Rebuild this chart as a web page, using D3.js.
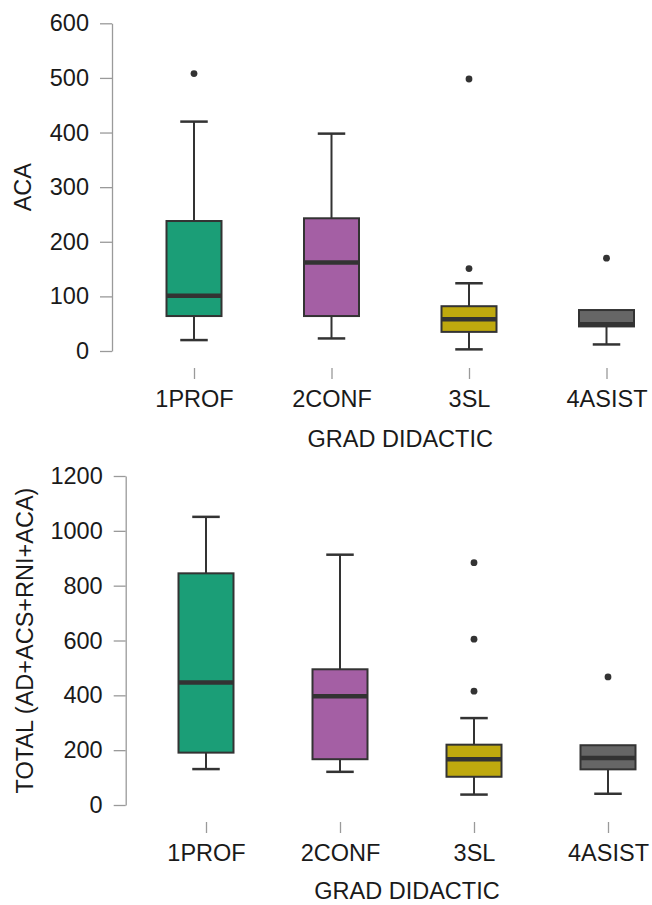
<!DOCTYPE html>
<html>
<head>
<meta charset="utf-8">
<script src="https://cdn.jsdelivr.net/npm/d3@7"></script>
<style>
  body { margin: 0; background: #fff; }
  text { font-family: "Liberation Sans", Arial, sans-serif; fill: #1a1a1a; }
</style>
</head>
<body>
<div id="chart"></div>
<script>
var categories = ['1PROF', '2CONF', '3SL', '4ASIST'];
var boxColors = ['#1b9e77', '#a45fa4', '#bfa90e', '#666666'];

// ACA
var acaLow = [20, 23, 3, 12];
var acaQ1 = [64, 64, 35, 45];
var acaMed = [101, 162, 58, 49];
var acaQ3 = [238, 243, 82, 75];
var acaHigh = [420, 398, 124, 75];
var acaOutliers = [[508], [], [498, 151], [170]];
var acaTicks = [0, 100, 200, 300, 400, 500, 600];

// TOTAL
var totLow = [131, 121, 38, 41];
var totQ1 = [191, 167, 103, 130];
var totMed = [447, 397, 167, 171];
var totQ3 = [845, 495, 220, 218];
var totHigh = [1051, 913, 317, 218];
var totOutliers = [[], [], [884, 605, 415], [467]];
var totTicks = [0, 200, 400, 600, 800, 1000, 1200];

var svg = d3.select('#chart')
    .append('svg')
    .attr('width', 652)
    .attr('height', 905)

drawPanel({
    axisX: 112, top: 23.3, bottom: 351, xAxisY: 368,
    xRange: [194, 606.5], ticks: acaTicks,
    low: acaLow, q1: acaQ1, med: acaMed, q3: acaQ3, high: acaHigh, out: acaOutliers,
    ylabel: 'ACA', ylabelX: 23, xlabelY: 447
})
drawPanel({
    axisX: 125.7, top: 476, bottom: 805, xAxisY: 822,
    xRange: [206, 608], ticks: totTicks,
    low: totLow, q1: totQ1, med: totMed, q3: totQ3, high: totHigh, out: totOutliers,
    ylabel: 'TOTAL (AD+ACS+RNI+ACA)', ylabelX: 25, xlabelY: 899
})

function drawPanel(p){
    var y = d3.scaleLinear()
        .domain([0, d3.max(p.ticks)])
        .range([p.bottom, p.top])
    var x = d3.scalePoint()
        .domain(categories)
        .range(p.xRange)
    var boxW = 55

    var yAxis = svg.append('g')
        .attr('transform', 'translate(' + p.axisX + ',0)')
        .call(d3.axisLeft(y).tickValues(p.ticks).tickFormat(d3.format('d'))
            .tickSize(12).tickSizeOuter(0).tickPadding(11))
    yAxis.select('.domain').attr('stroke', '#9a9a9a').attr('stroke-width', 1.3)
    yAxis.selectAll('.tick line').attr('stroke', '#9a9a9a').attr('stroke-width', 1.3)
    yAxis.selectAll('.tick text').style('font-size', '23.5px').attr('fill', '#1a1a1a')
        .style('font-family', '"Liberation Sans", Arial, sans-serif')

    var xAxis = svg.append('g')
        .attr('transform', 'translate(0,' + p.xAxisY + ')')
        .call(d3.axisBottom(x).tickSize(11).tickPadding(11))
    xAxis.select('.domain').remove()
    xAxis.selectAll('.tick line').attr('stroke', '#9a9a9a').attr('stroke-width', 1.3)
    xAxis.selectAll('.tick text').style('font-size', '23.5px').attr('fill', '#1a1a1a')
        .style('font-family', '"Liberation Sans", Arial, sans-serif')

    var g = svg.append('g')
    var idx = d3.range(categories.length)

    // whiskers
    g.selectAll('line.whisk')
        .data(idx)
        .enter()
        .append('line')
        .attr('x1', function(i){return x(categories[i])})
        .attr('x2', function(i){return x(categories[i])})
        .attr('y1', function(i){return y(p.low[i])})
        .attr('y2', function(i){return y(p.high[i])})
        .attr('stroke', '#333')
        .attr('stroke-width', 2)
    g.selectAll('line.capLow')
        .data(idx)
        .enter()
        .append('line')
        .attr('x1', function(i){return x(categories[i]) - boxW / 4})
        .attr('x2', function(i){return x(categories[i]) + boxW / 4})
        .attr('y1', function(i){return y(p.low[i])})
        .attr('y2', function(i){return y(p.low[i])})
        .attr('stroke', '#333')
        .attr('stroke-width', 2.5)
    g.selectAll('line.capHigh')
        .data(idx.filter(function(i){return p.high[i] > p.q3[i]}))
        .enter()
        .append('line')
        .attr('x1', function(i){return x(categories[i]) - boxW / 4})
        .attr('x2', function(i){return x(categories[i]) + boxW / 4})
        .attr('y1', function(i){return y(p.high[i])})
        .attr('y2', function(i){return y(p.high[i])})
        .attr('stroke', '#333')
        .attr('stroke-width', 2.5)

    // boxes
    g.selectAll('rect')
        .data(idx)
        .enter()
        .append('rect')
        .attr('x', function(i){return x(categories[i]) - boxW / 2})
        .attr('width', boxW)
        .attr('y', function(i){return y(p.q3[i])})
        .attr('height', function(i){return y(p.q1[i]) - y(p.q3[i])})
        .attr('fill', function(i){return boxColors[i]})
        .attr('stroke', '#333')
        .attr('stroke-width', 2)

    // medians
    g.selectAll('line.med')
        .data(idx)
        .enter()
        .append('line')
        .attr('x1', function(i){return x(categories[i]) - boxW / 2})
        .attr('x2', function(i){return x(categories[i]) + boxW / 2})
        .attr('y1', function(i){return y(p.med[i])})
        .attr('y2', function(i){return y(p.med[i])})
        .attr('stroke', '#333')
        .attr('stroke-width', 4.5)

    // outliers
    var pts = []
    p.out.forEach(function(vals, i){
        vals.forEach(function(v){ pts.push({c: categories[i], v: v}) })
    })
    g.selectAll('circle')
        .data(pts)
        .enter()
        .append('circle')
        .attr('cx', function(d){return x(d.c)})
        .attr('cy', function(d){return y(d.v)})
        .attr('r', 3.4)
        .attr('fill', '#333')

    // axis titles
    svg.append('text')
        .attr('transform', 'translate(' + (p.ylabelX + 8) + ',' + ((p.top + p.bottom) / 2) + ') rotate(-90)')
        .attr('text-anchor', 'middle')
        .style('font-size', '23.5px')
        .text(p.ylabel)
    svg.append('text')
        .attr('x', (p.xRange[0] + p.xRange[1]) / 2)
        .attr('y', p.xlabelY)
        .attr('text-anchor', 'middle')
        .style('font-size', '23.5px')
        .text('GRAD DIDACTIC')
}
</script>
</body>
</html>
